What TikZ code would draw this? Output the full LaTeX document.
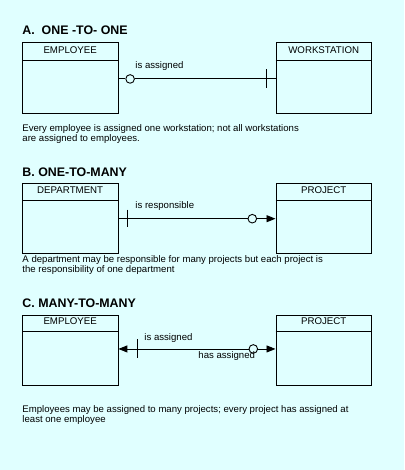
\documentclass[tikz,border=0pt]{standalone}
\usepackage{fontspec}
\setmainfont{Liberation Sans}
\usetikzlibrary{calc,arrows.meta}
\definecolor{bgc}{RGB}{224,255,255}
\begin{document}
\begin{tikzpicture}[x=1pt,y=-1pt,
  line width=0.9pt,
  entity/.style={draw, minimum width=95.5pt, inner sep=0pt, anchor=north west},
  hdr/.style={font=\fontsize{9.7}{10}\selectfont, anchor=base, inner sep=0pt},
  ttl/.style={font=\fontsize{12.4}{14}\selectfont\bfseries, anchor=base west, inner sep=0pt},
  rel/.style={font=\fontsize{9.6}{10}\selectfont, anchor=base west, inner sep=0pt},
  captxt/.style={font=\fontsize{9.6}{10}\selectfont, anchor=base west, inner sep=0pt, align=left},
  opt/.style={circle, draw, fill=bgc, minimum size=8.6pt, inner sep=0pt},
  many/.style={-{Triangle[length=9pt,width=7pt]}},
]
\fill[bgc] (0,0) rectangle (404,470);
\useasboundingbox (0,0) rectangle (404,470);

% ---------- A ----------
\node[ttl] (tA) at (22,35) {A.\ \ ONE -TO- ONE};
\node[entity, minimum height=71pt] (empA) at (22,42) {};
\node[entity, minimum height=71pt] (ws) at (275.5,42) {};
\draw ($(empA.north west)+(0,18)$) -- ($(empA.north east)+(0,18)$);
\draw ($(ws.north west)+(0,18)$) -- ($(ws.north east)+(0,18)$);
\node[hdr] (empAl) at ($(empA.north)+(0,11.3)$) {EMPLOYEE};
\node[hdr] (wsl) at ($(ws.north)+(0,11.3)$) {WORKSTATION};
\coordinate (aL) at ($(empA.east)+(0,1)$);
\coordinate (aR) at ($(ws.west)+(0,1)$);
\node[opt] (aC) at ($(aL)+(11.7,0)$) {};
\draw (aL) -- (aC) -- (aR);
\coordinate (aT) at ($(aR)+(-8.6,0)$);
\draw ($(aT)+(0,-9.5)$) -- ($(aT)+(0,9)$);
\node[rel] (aLab) at (135,69) {is assigned};
\node[captxt] (capA) at (22,141.5) {Every employee is assigned one workstation; not all workstations\\are assigned to employees.};

% ---------- B ----------
\node[ttl] (tB) at (22,176.5) {B. ONE-TO-MANY};
\node[entity, minimum height=69.5pt] (dep) at (22,183.5) {};
\node[entity, minimum height=69.5pt] (projB) at (275.5,183.5) {};
\draw ($(dep.north west)+(0,17.3)$) -- ($(dep.north east)+(0,17.3)$);
\draw ($(projB.north west)+(0,17.3)$) -- ($(projB.north east)+(0,17.3)$);
\node[hdr] (depl) at ($(dep.north)+(0,10.2)$) {DEPARTMENT};
\node[hdr] (projBl) at ($(projB.north)+(0,10.2)$) {PROJECT};
\coordinate (bL) at (dep.east);
\coordinate (bR) at (projB.west);
\node[opt] (bC) at ($(bR)+(-23.2,0)$) {};
\draw (bL) -- (bC);
\draw[many] (bC) -- (bR);
\coordinate (bT) at ($(bL)+(8.8,0)$);
\draw ($(bT)+(0,-9)$) -- ($(bT)+(0,8.5)$);
\node[rel] (bLab) at (135,208.5) {is responsible};
\node[captxt] (capB) at (22,272) {A department may be responsible for many projects but each project is\\the responsibility of one department};

% ---------- C ----------
\node[ttl] (tC) at (22,307) {C. MANY-TO-MANY};
\node[entity, minimum height=70pt] (empC) at (22,314.5) {};
\node[entity, minimum height=70pt] (projC) at (275.5,314.5) {};
\draw ($(empC.north west)+(0,17)$) -- ($(empC.north east)+(0,17)$);
\draw ($(projC.north west)+(0,17)$) -- ($(projC.north east)+(0,17)$);
\node[hdr] (empCl) at ($(empC.north)+(0,10.2)$) {EMPLOYEE};
\node[hdr] (projCl) at ($(projC.north)+(0,10.2)$) {PROJECT};
\coordinate (cL) at ($(empC.east)+(0,-1)$);
\coordinate (cR) at ($(projC.west)+(0,-1)$);
\node[opt] (cC) at ($(cR)+(-22.2,0)$) {};
\coordinate (cA) at ($(cL)+(11,0)$);
\draw[many] (cA) -- (cL);
\draw (cA) -- (cC);
\draw[many] (cC) -- (cR);
\coordinate (cT) at ($(cL)+(19,0)$);
\draw ($(cT)+(0,-9.5)$) -- ($(cT)+(0,9.5)$);
\node[rel] (cLab1) at (144,340) {is assigned};
\node[rel] (cLab2) at (198,358) {has assigned};
\node[captxt] (capC) at (22,422.5) {Employees may be assigned to many projects; every project has assigned at\\least one employee};
\end{tikzpicture}
\end{document}
